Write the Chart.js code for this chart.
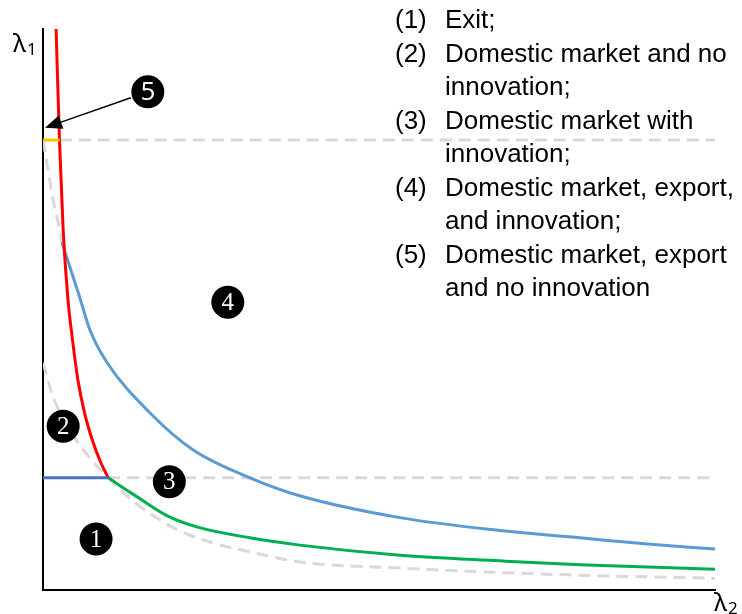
<!DOCTYPE html>
<html>
<head>
<meta charset="utf-8">
<script src="https://cdn.jsdelivr.net/npm/chart.js@4/dist/chart.umd.min.js"></script>
<style>
  html, body { margin: 0; padding: 0; background: #ffffff; }
  canvas { display: block; }
</style>
</head>
<body>
<canvas id="c" width="742" height="614"></canvas>
<script>
// ---- Data (schematic units: both axes 0..100) ----
const redCurve = [
  [1.95, 100], [2.45, 80.2], [3.0, 64.2], [3.7, 52.0], [4.4, 44.5],
  [5.2, 37.4], [6.2, 31.5], [7.4, 26.5], [8.5, 23.0], [9.7, 20.0]
];
const blueCurve = [
  [2.8, 62.0], [5.4, 52.4], [7.0, 46.3], [9.5, 40.6],
  [15.9, 31.6], [22.3, 25.0], [30.8, 20.0], [38.2, 16.8], [53.1, 12.9],
  [68.0, 10.6], [79.9, 9.3], [90.0, 8.2], [100, 7.3]
];
const greenCurve = [
  [9.7, 20.0], [13.5, 17.0], [18.5, 13.2], [23.0, 11.2], [30.8, 9.3],
  [38.2, 8.0], [53.1, 6.2], [68.0, 5.2], [79.9, 4.5], [100, 3.7]
];
const greyUpperCurve = [
  [0, 80.2], [0.75, 74.9], [1.5, 69.5], [2.5, 64.2], [2.8, 62.0]
];
const greyLowerCurve = [
  [0, 40.5], [1.5, 34.4], [3.5, 29.5], [5.5, 25.8], [7.5, 22.8], [9.7, 20.0],
  [12.0, 17.3], [14.4, 14.9], [19.9, 10.8], [25.0, 8.5], [30.8, 6.8],
  [38.2, 5.0], [53.1, 3.9], [78.0, 2.7], [100, 2.1]
];
const upperThreshold = [[2.5, 80.2], [100, 80.2]];
const lowerThreshold = [[9.7, 20.0], [100, 20.0]];
const orangeSegment = [[0, 80.2], [2.5, 80.2]];
const darkBlueSegment = [[0, 20.0], [9.7, 20.0]];

const regionLabels = ['5', '4', '2', '3', '1'];
const regionPositions = [[15.6, 88.8], [27.5, 51.3], [3.0, 29.2], [18.8, 19.3], [7.9, 9.1]];
const arrowTip = [0.3, 82.4];

const legendNumbers = ['(1)', '(2)', '', '(3)', '', '(4)', '', '(5)', ''];
const legendLines = [
  'Exit;', 'Domestic market and no', 'innovation;', 'Domestic market with',
  'innovation;', 'Domestic market, export,', 'and innovation;',
  'Domestic market, export', 'and no innovation'
];

const toPts = arr => arr.map(p => ({ x: p[0], y: p[1] }));

function lineDs(data, color, dashed, smooth) {
  return {
    type: 'scatter',
    data: toPts(data),
    showLine: true,
    borderColor: color,
    backgroundColor: color,
    borderWidth: 3,
    borderDash: dashed ? [12, 7] : [],
    pointRadius: 0,
    tension: 0,
    cubicInterpolationMode: smooth ? 'monotone' : 'default',
    borderCapStyle: 'butt',
    fill: false
  };
}

const overlayPlugin = {
  id: 'overlay',
  afterDatasetsDraw(chart) {
    const ctx = chart.ctx;
    const xs = chart.scales.x, ys = chart.scales.y;
    ctx.save();
    // arrow from circle 5 to the tip
    const c5 = regionPositions[0];
    const cx = xs.getPixelForValue(c5[0]), cy = ys.getPixelForValue(c5[1]);
    const tx = xs.getPixelForValue(arrowTip[0]), ty = ys.getPixelForValue(arrowTip[1]);
    const ang = Math.atan2(ty - cy, tx - cx);
    const sx = cx + Math.cos(ang) * 18, sy = cy + Math.sin(ang) * 18;
    const headLen = 17, headW = 7;
    const bx = tx - Math.cos(ang) * headLen, by = ty - Math.sin(ang) * headLen;
    ctx.strokeStyle = '#000';
    ctx.lineWidth = 1.5;
    ctx.beginPath(); ctx.moveTo(sx, sy); ctx.lineTo(bx, by); ctx.stroke();
    ctx.fillStyle = '#000';
    ctx.beginPath();
    ctx.moveTo(tx, ty);
    ctx.lineTo(bx + Math.sin(ang) * headW, by - Math.cos(ang) * headW);
    ctx.lineTo(bx - Math.sin(ang) * headW, by + Math.cos(ang) * headW);
    ctx.closePath(); ctx.fill();

    // numbers in circles
    ctx.fillStyle = '#fff';
    ctx.textAlign = 'center';
    ctx.textBaseline = 'middle';
    regionPositions.forEach((p, i) => {
      const px = xs.getPixelForValue(p[0]), py = ys.getPixelForValue(p[1]);
      ctx.font = regionLabels[i] === '5' ? '26px "Open Sans", sans-serif' : '25px "Liberation Serif", serif';
      ctx.fillText(regionLabels[i], px, py + 1);
    });

    // axis labels
    ctx.fillStyle = '#000';
    ctx.textAlign = 'left';
    ctx.textBaseline = 'alphabetic';
    ctx.font = '25px "Noto Sans", sans-serif';
    ctx.fillText('λ', 13, 52);
    ctx.fillText('λ', 714, 611);
    ctx.font = '17px "Noto Sans", sans-serif';
    ctx.fillText('1', 27, 55);
    ctx.fillText('2', 728, 614);

    // legend text
    ctx.font = '26px "Liberation Sans", Arial, sans-serif';
    ctx.textBaseline = 'middle';
    legendLines.forEach((t, i) => {
      const y = 21 + i * 33.5;
      if (legendNumbers[i]) ctx.fillText(legendNumbers[i], 395, y);
      ctx.fillText(t, 445, y);
    });
    ctx.restore();
  }
};

new Chart(document.getElementById('c'), {
  type: 'scatter',
  data: {
    datasets: [
      {
        type: 'scatter',
        data: toPts(regionPositions),
        pointRadius: 16.5,
        pointHoverRadius: 16.5,
        backgroundColor: '#000',
        borderColor: '#000',
        borderWidth: 0,
        showLine: false
      },
      lineDs(orangeSegment, '#FFC000', false, false),
      lineDs(darkBlueSegment, '#4472C4', false, false),
      lineDs(redCurve, '#FF0000', false, true),
      lineDs(greenCurve, '#00B050', false, true),
      lineDs(blueCurve, '#5B9BD5', false, true),
      lineDs(upperThreshold, '#D9D9D9', true, false),
      lineDs(lowerThreshold, '#D9D9D9', true, false),
      lineDs(greyUpperCurve, '#D9D9D9', true, true),
      lineDs(greyLowerCurve, '#D9D9D9', true, true)
    ]
  },
  options: {
    responsive: false,
    animation: false,
    devicePixelRatio: 1,
    layout: { padding: { left: 43, right: 27, top: 29, bottom: 24 } },
    plugins: { legend: { display: false }, tooltip: { enabled: false } },
    scales: {
      x: {
        type: 'linear', min: 0, max: 100,
        grid: { display: false, drawTicks: false },
        ticks: { display: false },
        border: { display: true, color: '#000', width: 2 }
      },
      y: {
        type: 'linear', min: 0, max: 100,
        grid: { display: false, drawTicks: false },
        ticks: { display: false },
        border: { display: true, color: '#000', width: 2 }
      }
    }
  },
  plugins: [overlayPlugin]
});
</script>
</body>
</html>
